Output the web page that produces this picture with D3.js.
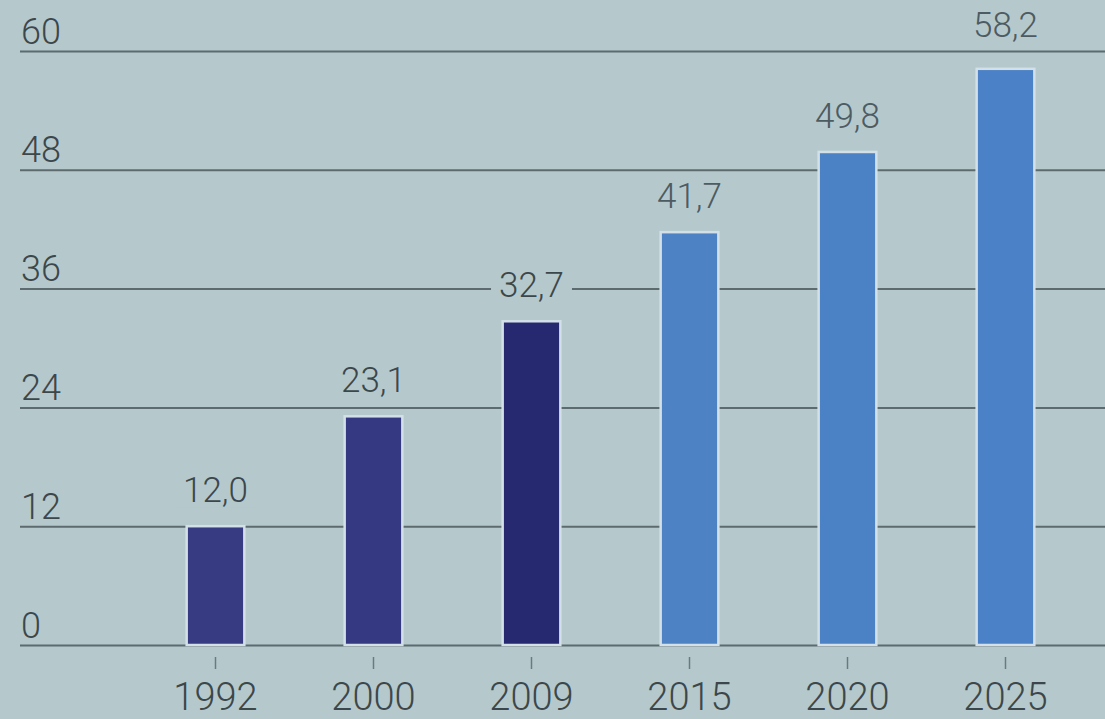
<!DOCTYPE html>
<html>
<head>
<meta charset="utf-8">
<script src="https://cdn.jsdelivr.net/npm/d3@7"></script>
<style>
  html, body { margin: 0; padding: 0; background: #b5c9cc; }
  svg { display: block; }
  text { font-family: Roboto, "Liberation Sans", Arial, sans-serif; font-weight: 300; }
</style>
</head>
<body>
<script>
// Data
const years = ["1992", "2000", "2009", "2015", "2020", "2025"];
const values = [12.0, 23.1, 32.7, 41.7, 49.8, 58.2];
const yTicks = [0, 12, 24, 36, 48, 60];

// Styling
const W = 1105, H = 719;
const bg = "#b5c9cc";
const gridColor = "#5d6b6e";
const textColor = "#3c474b";
const barFill = d3.scaleOrdinal(years, ["#363b82", "#343981", "#26296f", "#4d82c5", "#4b81c5", "#4b81c6"]);

const svg = d3.select("body").append("svg").attr("width", W).attr("height", H);
svg.append("rect").attr("width", W).attr("height", H).attr("fill", bg);

const y = d3.scaleLinear().domain([0, 60]).range([645, 51]);
const x = d3.scaleBand().domain(years).range([136.5, 1084.5])
  .paddingInner(0.635).paddingOuter(0.3175);

// Horizontal gridlines with left-aligned labels sitting on top of them
const yAxis = d3.axisRight(y).tickValues(yTicks).tickSize(W - 20).tickFormat(d3.format("d"));
const gy = svg.append("g").attr("transform", "translate(20,0)").call(yAxis);
gy.select(".domain").remove();
gy.selectAll(".tick line").attr("stroke", gridColor).attr("stroke-width", 2);
gy.selectAll(".tick text")
  .attr("x", 1).attr("dy", -8)
  .attr("text-anchor", "start")
  .attr("dominant-baseline", "auto")
  .attr("fill", textColor)
  .style("font-size", "36px");

// Bars
svg.append("g").selectAll("rect").data(values).join("rect")
  .attr("x", (d, i) => x(years[i]))
  .attr("y", d => y(d))
  .attr("width", x.bandwidth())
  .attr("height", d => y(0) - y(d))
  .attr("fill", (d, i) => barFill(years[i]))
  .attr("stroke", "#d3e0e8")
  .attr("stroke-width", 2.5);

// Category axis: short ticks under each bar and the year labels
const xAxis = d3.axisBottom(x).tickSize(12).tickPadding(14).tickSizeOuter(0);
const gx = svg.append("g").attr("transform", `translate(0,${y(0) + 12})`).call(xAxis);
gx.select(".domain").remove();
gx.selectAll(".tick line").attr("stroke", "#6b7a7d").attr("stroke-width", 1.5);
gx.selectAll(".tick text").attr("fill", textColor).style("font-size", "38px");

// Value labels above bars, knocked out of any gridline they cross
const fmt = v => d3.format(".1f")(v).replace(".", ",");
const labels = svg.append("g");
values.forEach((v, i) => {
  let base = y(v) - 24;
  // keep a label clear of a gridline running just under its baseline
  yTicks.forEach(t => {
    const ly = y(t);
    if (ly > base - 2 && ly < base + 8) base = ly - 14;
  });
  const cx = x(years[i]) + x.bandwidth() / 2;
  const g = labels.append("g");
  const txt = g.append("text")
    .attr("x", cx).attr("y", base)
    .attr("text-anchor", "middle")
    .attr("fill", i < 3 ? textColor : "#4d5b62")
    .style("font-size", "35px")
    .text(fmt(v));
  const bb = txt.node().getBBox();
  g.insert("rect", "text")
    .attr("x", bb.x - 8).attr("y", bb.y + 4)
    .attr("width", bb.width + 16).attr("height", bb.height - 8)
    .attr("fill", bg);
});
</script>
</body>
</html>
